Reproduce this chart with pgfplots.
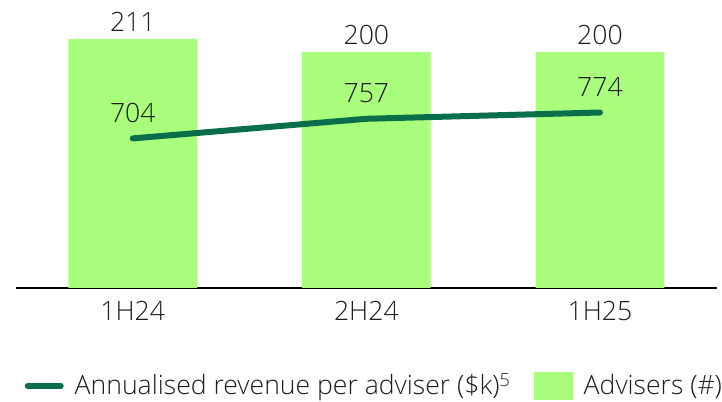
\documentclass[border=0pt]{standalone}
\usepackage{fontspec}
\setmainfont{Open Sans}[UprightFont=* Light]
\usepackage{pgfplots}
\pgfplotsset{compat=1.18}
\definecolor{barcol}{HTML}{A9FF7B}
\definecolor{linecol}{HTML}{0A6E4A}
\definecolor{txt}{HTML}{1E1E1E}

% 1 px of the reference = 0.5pt
\pgfplotsset{
  base/.style={
    scale only axis,
    width=350.5pt, height=144pt,
    xmin=-0.5, xmax=2.5,
    clip=false,
    /pgf/number format/assume math mode=true,
    font=\fontsize{13.3}{15}\selectfont,
  },
  linelegend/.style={legend image code/.code={
    \draw[linecol, line width=3pt, line cap=round] (1.5pt,0pt) -- (18pt,0pt);}},
  barlegend/.style={legend image code/.code={
    \fill[barcol] (0pt,-6.75pt) rectangle (19pt,6.75pt);}},
}

\begin{document}
\begin{tikzpicture}
  % bars: advisers (#)
  \begin{axis}[
      base,
      ymin=0, ymax=244,
      axis x line*=bottom,
      axis y line=none,
      x axis line style={black, line width=0.75pt, -},
      xtick={0,1,2},
      xticklabels={1H24,2H24,1H25},
      major tick length=0pt,
      x tick label style={text=txt, yshift=-3pt},
      ybar, bar width=0.551,
      nodes near coords,
      every node near coord/.append style={text=txt, yshift=0pt},
    ]
    \addplot[fill=barcol, draw=none] coordinates {(0,211) (1,200) (2,200)};
    \path (rel axis cs:-0.0228,-0.396) rectangle (rel axis cs:1.0071,1);
  \end{axis}
  % line: annualised revenue per adviser ($k)
  \begin{axis}[
      base,
      ymin=300, ymax=1078,
      hide axis,
      nodes near coords,
      every node near coord/.append style={text=txt, yshift=3pt},
      legend columns=2,
      legend style={at={(rel axis cs:0.510,-0.34)}, anchor=center,
        draw=none, fill=none, text=txt, inner sep=0pt,
        nodes={inner sep=0pt},
        /tikz/every odd column/.append style={column sep=5.5pt},
        /tikz/every even column/.append style={column sep=12pt}},
    ]
    \addplot[linecol, line width=3pt, line cap=round, mark=none, linelegend]
      coordinates {(0,704) (1,757) (2,774)};
    \addlegendentry{Annualised revenue per adviser (\$k)\raisebox{4pt}{\fontsize{9}{10}\selectfont 5}}
    \addlegendimage{barlegend}
    \addlegendentry{Advisers (\#)}
  \end{axis}
\end{tikzpicture}
\end{document}
